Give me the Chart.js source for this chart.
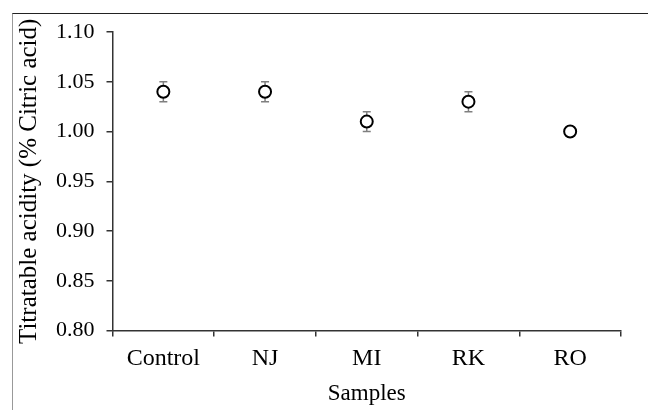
<!DOCTYPE html>
<html>
<head>
<meta charset="utf-8">
<script src="https://cdn.jsdelivr.net/npm/chart.js@4/dist/chart.umd.min.js"></script>
<style>
  html, body { margin: 0; padding: 0; background: #fff; }
  #wrap { position: relative; width: 648px; height: 410px; overflow: hidden; }
  #frame {
    position: absolute; left: 12px; top: 13px; width: 700px; height: 500px;
    border-top: 1px solid #222; border-left: 1px solid #999;
  }
  canvas { position: absolute; left: 0; top: 0; }
</style>
</head>
<body>
<div id="wrap">
  <div id="frame"></div>
  <canvas id="acidityChart" width="648" height="410"></canvas>
</div>
<script>
// data
const samples = ["Control", "NJ", "MI", "RK", "RO"];
const acidity = [1.04, 1.04, 1.01, 1.03, 1.00];
const acidityErr = [0.01, 0.01, 0.01, 0.01, 0];
const yTicks = [0.80, 0.85, 0.90, 0.95, 1.00, 1.05, 1.10];

const serif = "'Liberation Serif', 'Times New Roman', serif";

// vertical error bars with caps, drawn under the markers
const errorBars = {
  id: "errorBars",
  beforeDatasetsDraw(chart) {
    const { ctx, scales } = chart;
    ctx.save();
    ctx.strokeStyle = "#7f7f7f";
    ctx.lineWidth = 1.5;
    acidity.forEach((v, i) => {
      const err = acidityErr[i];
      if (!err) return;
      const x = scales.x.getPixelForValue(i);
      const yTop = scales.y.getPixelForValue(v + err);
      const yBot = scales.y.getPixelForValue(v - err);
      ctx.beginPath();
      ctx.moveTo(x, yTop);
      ctx.lineTo(x, yBot);
      ctx.moveTo(x - 4, yTop);
      ctx.lineTo(x + 4, yTop);
      ctx.moveTo(x - 4, yBot);
      ctx.lineTo(x + 4, yBot);
      ctx.stroke();
    });
    ctx.restore();
  },
};

const ctx = document.getElementById("acidityChart").getContext("2d");

new Chart(ctx, {
  type: "line",
  data: {
    labels: samples,
    datasets: [
      {
        data: acidity,
        showLine: false,
        pointStyle: "circle",
        pointRadius: 6,
        pointBorderWidth: 2,
        pointBorderColor: "#000",
        pointBackgroundColor: "#fff",
      },
    ],
  },
  options: {
    responsive: false,
    animation: false,
    layout: { padding: { top: 32, right: 27, left: 14, bottom: 0 } },
    plugins: {
      legend: { display: false },
      tooltip: { enabled: false },
    },
    scales: {
      x: {
        type: "category",
        offset: true,
        grid: {
          offset: true,
          drawOnChartArea: false,
          drawTicks: true,
          tickLength: 6,
          color: "#333",
          lineWidth: 1.5,
        },
        border: { color: "#333", width: 1.5 },
        ticks: {
          color: "#000",
          font: { family: serif, size: 24 },
          padding: 7.5,
        },
        title: {
          display: true,
          text: "Samples",
          color: "#000",
          font: { family: serif, size: 23 },
          padding: { top: 0, bottom: 2 },
        },
      },
      y: {
        min: yTicks[0],
        max: yTicks[yTicks.length - 1],
        afterBuildTicks: (scale) => {
          scale.ticks = yTicks.map((v) => ({ value: v }));
        },
        grid: {
          drawOnChartArea: false,
          drawTicks: true,
          tickLength: 6,
          color: "#333",
          lineWidth: 1.5,
        },
        border: { color: "#333", width: 1.5 },
        ticks: {
          color: "#000",
          font: { family: serif, size: 22 },
          padding: 12,
          callback: (v) => Number(v).toFixed(2),
        },
        title: {
          display: true,
          text: "Titratable acidity (% Citric acid)",
          color: "#000",
          font: { family: serif, size: 25 },
          padding: { top: 0, bottom: 0 },
        },
      },
    },
  },
  plugins: [errorBars],
});
</script>
</body>
</html>
